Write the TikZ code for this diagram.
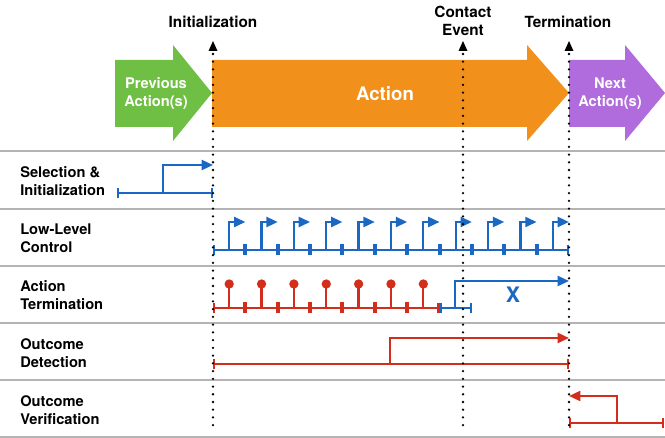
\documentclass[tikz,border=0pt]{standalone}
\usepackage{fontspec}
\setmainfont{TeX Gyre Heros}
\usetikzlibrary{arrows.meta}
\definecolor{actgreen}{HTML}{6FBF44}
\definecolor{actorange}{HTML}{F2901C}
\definecolor{actpurple}{HTML}{B06BDD}
\definecolor{ctrlblue}{HTML}{1A68C4}
\definecolor{termred}{HTML}{D22E1B}
\definecolor{sepgray}{HTML}{B4B4B4}

\begin{document}
\begin{tikzpicture}[x=0.75pt,y=-0.75pt,
  event/.style={line width=1.9pt,line cap=round,dash pattern=on 0pt off 5.8pt},
  toplabel/.style={align=center,inner sep=0pt,font=\fontsize{11.5}{13.5}\selectfont\bfseries},
  rowlabel/.style={anchor=west,align=left,inner sep=0pt,font=\fontsize{11}{13.5}\selectfont\bfseries},
  arrowtext/.style={align=center,inner sep=0pt,text=white,font=\fontsize{11}{13.5}\selectfont\bfseries},
  timeline/.style={line width=1.7pt,draw=#1,{Bar[width=8pt]}-{Bar[width=8pt]}},
  trigger/.style={line width=1.7pt,draw=#1,-{Triangle[length=8.5pt,width=7.5pt]}},
  lolli/.style={circle,fill=termred,inner sep=0pt,minimum size=7pt}
  ]
\useasboundingbox (0,0) rectangle (665,438);
\def\xa{213}      % initialization
\def\xc{463}      % contact event
\def\xt{569}      % termination
\def\dx{32.36}    % control period

% row separators
\foreach \y in {151,209,266,323,380,437}
  \draw[sepgray,line width=1.1pt] (0,\y) -- (665,\y);

% action arrows
\fill[actgreen]  (115,60) -- (173,60) -- (173,45) -- (212,93) -- (173,141) -- (173,127) -- (115,127) -- cycle;
\fill[actorange] (212,60) -- (527,60) -- (527,45) -- (569,93) -- (527,141) -- (527,127) -- (212,127) -- cycle;
\fill[actpurple] (569,60) -- (625,60) -- (625,45) -- (665,93) -- (625,141) -- (625,127) -- (569,127) -- cycle;
\node[arrowtext] (prev) at (156,94) {Previous\\Action(s)};
\node[arrowtext,font=\fontsize{14}{16}\selectfont\bfseries] (act) at (385,94) {Action};
\node[arrowtext] (next) at (610,94) {Next\\Action(s)};

% event labels
\node[toplabel] (initlbl) at (213,22) {Initialization};
\node[toplabel] (contactlbl) at (463,21) {Contact\\Event};
\node[toplabel] (termlbl) at (568,22) {Termination};

% row labels
\node[rowlabel] (sel) at (20,181) {Selection \&\\Initialization};
\node[rowlabel] (llc) at (20,238) {Low-Level\\Control};
\node[rowlabel] (term) at (20,295) {Action\\Termination};
\node[rowlabel] (det) at (20,353) {Outcome\\Detection};
\node[rowlabel] (ver) at (20,410) {Outcome\\Verification};

% selection & initialization
\draw[timeline=ctrlblue] (117,193) -- (\xa,193);
\draw[trigger=ctrlblue] (163,193) |- (\xa,165);

% low-level control
\draw[timeline=ctrlblue] (\xa,250) -- (\xt,250);
\foreach \k in {0,...,10}
  \draw[trigger=ctrlblue] ({\xa+\dx*(\k+0.5)},250) |- ({\xa+\dx*(\k+1)},222);
\foreach \k in {1,...,10}
  \fill[ctrlblue] ({\xa+\dx*\k-2},244.5) rectangle +(4,11);

% action termination
\draw[timeline=termred] (\xa,308) -- ({\xa+7*\dx},308);
\foreach \k in {0,...,6}
  \draw[termred,line width=1.7pt] ({\xa+\dx*(\k+0.5)},308) -- ({\xa+\dx*(\k+0.5)},284) node[lolli] (lp\k) {};
\foreach \k in {1,...,6}
  \fill[termred] ({\xa+\dx*\k-2},302.5) rectangle +(4,11);
\draw[timeline=ctrlblue] ({\xa+7*\dx},308) -- (472,308);
\draw[trigger=ctrlblue] (455,308) |- (\xt,281);
\node[text=ctrlblue,inner sep=0pt,font=\fontsize{16}{16}\selectfont\bfseries] (xmark) at (513,295) {X};

% outcome detection
\draw[timeline=termred] (\xa,364) -- (\xt,364);
\draw[trigger=termred] (390,364) |- (\xt,338);

% outcome verification
\draw[timeline=termred] (\xt,423) -- (664,423);
\draw[trigger=termred] (617,423) |- (\xt,396);

% event markers
\foreach \x in {\xa,\xc,\xt}{
  \draw[event] (\x,54) -- (\x,432);
  \fill (\x,41) -- (\x-4.5,51) -- (\x+4.5,51) -- cycle;
}
\end{tikzpicture}
\end{document}
